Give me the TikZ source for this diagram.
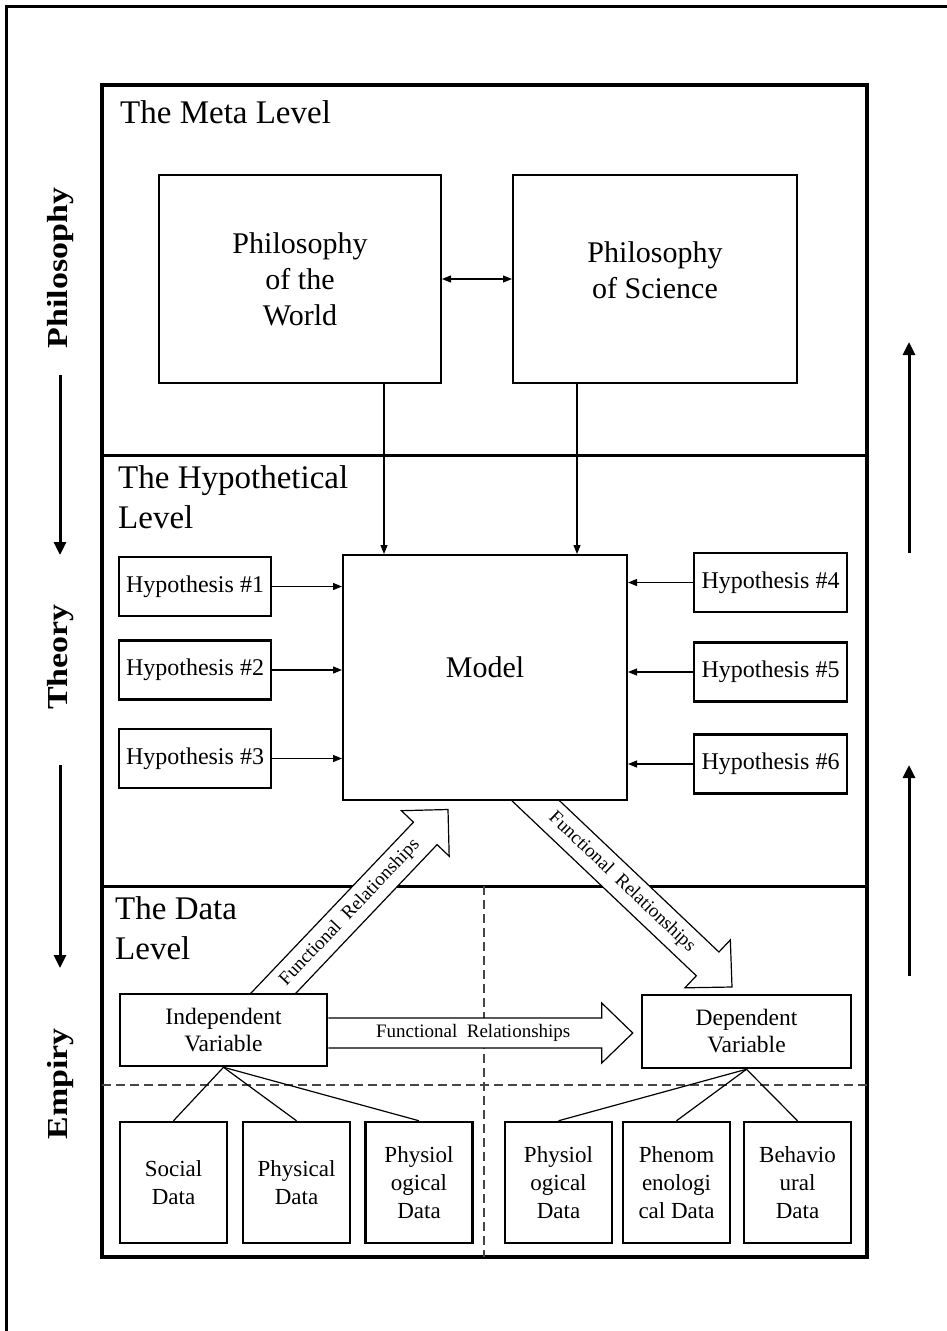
\documentclass[tikz,border=0pt]{standalone}
\usepackage{fontspec}
\setmainfont{Liberation Serif}
\usepackage{graphicx}
\usetikzlibrary{arrows.meta,calc}

\newcommand\fsz[2]{\fontsize{#1}{#2}\selectfont}

\tikzset{
  frameline/.style={line width=3pt},
  levelframe/.style={draw, line width=3.5pt},
  levelrule/.style={line width=3pt},
  splitline/.style={gray!55!black, line width=1.5pt, dash pattern=on 9pt off 5pt},
  box/.style={draw, line width=2pt, fill=white, align=center, inner sep=0pt},
  philbox/.style={box, minimum height=208pt, font=\fsz{30}{36}},
  hypbox/.style={box, line width=2.8pt, minimum width=152pt, minimum height=59pt, font=\fsz{24}{29}},
  varbox/.style={box, line width=2.5pt, minimum height=72pt, font=\fsz{23.5}{27}},
  databox/.style={box, line width=2.5pt, minimum width=107pt, minimum height=121pt, font=\fsz{23}{28}},
  conn/.style={line width=1.2pt, -{Triangle[length=9pt,width=7pt]}},
  twoway/.style={line width=1.2pt, {Triangle[length=9pt,width=7pt]}-{Triangle[length=9pt,width=7pt]}},
  fanline/.style={line width=1.2pt},
  sidearrow/.style={line width=3pt, -{Triangle[length=13pt,width=12pt]}},
  blockarrow/.style={draw, line width=1.2pt, fill=white, line join=miter},
  arrowtext/.style={font=\fsz{19}{22}, inner sep=0pt},
  levellabel/.style={anchor=north west, align=left, inner sep=0pt, font=\fsz{33}{40}},
  sidelabel/.style={rotate=90, inner sep=0pt, font=\fsz{29}{34}\bfseries},
}

% block arrow: #1 drawn tail, #2 tip, #3 half shaft, #4 half head, #5 head length, #6 label
\newcommand\blockarrowdraw[6]{%
  \coordinate (ba-c) at ($(#2)!#5!(#1)$);
  \coordinate (ba-t) at ($(#1)!-25pt!(#2)$);
  \draw[blockarrow] ($(ba-t)!#3!90:(#2)$) -- ($(ba-c)!#3!-90:(#1)$)
    -- ($(ba-c)!#4!-90:(#1)$) -- (#2) -- ($(ba-c)!#4!90:(#1)$)
    -- ($(ba-c)!#3!90:(#1)$) -- ($(ba-t)!#3!-90:(#2)$) -- cycle;
  \path (#1) -- (ba-c) node[midway, sloped, arrowtext] {#6};
}

\begin{document}
\begin{tikzpicture}[x=1pt,y=-1pt]
\useasboundingbox (0,0) rectangle (947,1331);
\fill[white] (0,0) rectangle (947,1331);

% page frame
\draw[frameline] (950,6) -- (6,6) -- (6,1340);

% the three levels
\draw[levelframe] (102,85) rectangle (867,1257);
\draw[levelrule] (102,455) -- (867,455);
\draw[levelrule] (102,886) -- (867,886);
\draw[splitline] (484,886) -- (484,1257);
\draw[splitline] (102,1085) -- (867,1085);

\node[levellabel, anchor=base west] (lmeta) at (120,123) {The Meta Level};
\node[levellabel] (lhyp) at (118,465.5) {The Hypothetical\\Level};
\node[levellabel] (ldata) at (115,896) {The Data\\Level};

% side labels and arrows
\node[sidelabel] (sphil) at (61,268) {\scalebox{1.17}[1]{Philosophy}};
\node[sidelabel] (stheo) at (61,657) {\scalebox{1.17}[1]{Theory}};
\node[sidelabel] (semp) at (61,1084) {\scalebox{1.17}[1]{Empiry}};
\coordinate (la1) at (60,375);  \coordinate (la2) at (60,555);
\coordinate (la3) at (60,765);  \coordinate (la4) at (60,968);
\coordinate (ra1) at (909,553); \coordinate (ra2) at (909,342);
\coordinate (ra3) at (909,976); \coordinate (ra4) at (909,765);
\draw[sidearrow] (la1) -- (la2);
\draw[sidearrow] (la3) -- (la4);
\draw[sidearrow] (ra1) -- (ra2);
\draw[sidearrow] (ra3) -- (ra4);

% diagonal functional relationships
\coordinate (fu-a) at (274.5,992);
\coordinate (fu-b) at (448,809.5);
\blockarrowdraw{fu-a}{fu-b}{16.3pt}{33pt}{33pt}{Functional~~Relationships}
\coordinate (fd-a) at (536,801);
\coordinate (fd-b) at (732,987);
\blockarrowdraw{fd-a}{fd-b}{16.4pt}{33pt}{33.6pt}{Functional~~Relationships}

% meta level
\node[philbox, minimum width=282pt] (pw) at (300,279) {Philosophy\\of the\\World};
\node[philbox, minimum width=284pt, text depth=18pt] (ps) at (655,279) {Philosophy\\of Science};

% hypothetical level
\node[box, minimum width=284pt, minimum height=245pt, font=\fsz{30}{36},
      text height=12pt, text depth=12pt] (model) at (485,677.5) {Model};
\node[hypbox] (h1) at (195,586.5) {Hypothesis \#1};
\node[hypbox] (h2) at (195,670) {Hypothesis \#2};
\node[hypbox] (h3) at (195,758.5) {Hypothesis \#3};
\node[hypbox, minimum width=153pt] (h4) at (770.5,582.5) {Hypothesis \#4};
\node[hypbox, minimum width=153pt] (h5) at (770.5,672) {Hypothesis \#5};
\node[hypbox, minimum width=153pt] (h6) at (770.5,764) {Hypothesis \#6};

% data level
\node[varbox, minimum width=207pt] (iv) at (223.5,1030) {Independent\\Variable};
\node[varbox, minimum width=209pt, minimum height=73pt] (dv) at (746.5,1031.5) {Dependent\\Variable};
\node[databox] (sd) at (173.5,1182.5) {Social\\Data};
\node[databox] (pd) at (296.5,1182.5) {Physical\\Data};
\node[databox] (pl) at (419,1182.5) {Physiol\\ogical\\Data};
\node[databox] (pr) at (558.5,1182.5) {Physiol\\ogical\\Data};
\node[databox] (ph) at (676.5,1182.5) {Phenom\\enologi\\cal Data};
\node[databox] (bd) at (797.5,1182.5) {Behavio\\ural\\Data};

% connectors
\draw[twoway] (pw.east) -- (ps.west);
\coordinate (xa) at (384,0);
\coordinate (xb) at (577,0);
\draw[conn] (xa |- pw.south) -- (xa |- model.north);
\draw[conn] (xb |- ps.south) -- (xb |- model.north);
\foreach \h in {h1,h2,h3} \draw[conn] (\h.east) -- (\h.east -| model.west);
\foreach \h in {h4,h5,h6} \draw[conn] (\h.west) -- (\h.west -| model.east);

\coordinate (fh-a) at ($(iv.east)+(0,3)$);
\coordinate (fh-b) at ($(dv.west)+(-8,1.5)$);
\coordinate (fh-c) at ($(fh-b)+(-31,0)$);
\draw[blockarrow] ($(fh-a)+(0,-15)$) -- ($(fh-c)+(0,-15)$) -- ($(fh-c)+(0,-30)$)
  -- (fh-b) -- ($(fh-c)+(0,30)$) -- ($(fh-c)+(0,15)$) -- ($(fh-a)+(0,15)$);
\path (fh-a) -- (fh-c) node[pos=0.53, arrowtext] {Functional~~Relationships};

\foreach \d in {sd,pd,pl} \draw[fanline] (iv.south) -- (\d.north);
\foreach \d in {pr,ph,bd} \draw[fanline] (dv.south) -- (\d.north);
\end{tikzpicture}
\end{document}
